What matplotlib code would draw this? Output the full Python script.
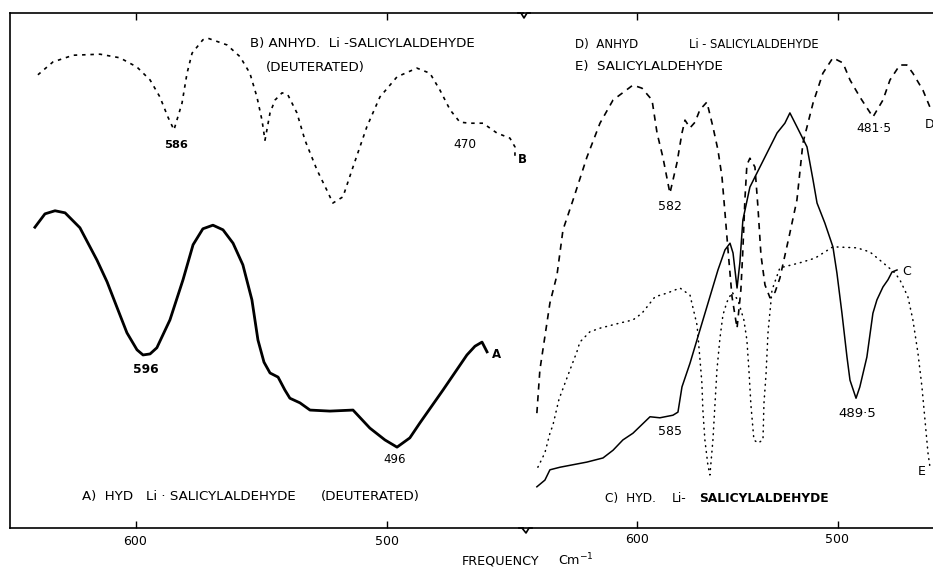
import matplotlib
matplotlib.use("Agg")
import matplotlib.pyplot as plt
from matplotlib.lines import Line2D

plt.rcParams['font.family'] = ['DejaVu Sans']
plt.rcParams['lines.scale_dashes'] = False

# ---------------- data (frequency cm^-1, relative transmission %) ----------------
# Left panel
freq_A = [640.2, 636.2, 632.2, 628.2, 622.3, 615.5, 611.5, 607.6, 603.6, 599.6, 597.2, 594.4,
          591.7, 586.5, 581.3, 577.3, 573.4, 569.4, 565.4, 561.4, 557.5, 553.9, 551.5, 549.1,
          546.7, 543.5, 540.8, 538.8, 534.8, 530.8, 522.9, 513.7, 507.0, 501.0, 496.2, 491.1,
          487.1, 477.9, 468.4, 465.2, 462.4, 460.4]
trans_A = [58.4, 61.0, 61.6, 61.2, 58.3, 52.0, 47.8, 42.9, 37.9, 34.6, 33.6, 33.8,
           35.0, 40.4, 48.2, 55.0, 58.1, 58.8, 57.9, 55.3, 51.1, 44.3, 36.5, 32.2,
           30.1, 29.3, 26.8, 25.2, 24.3, 22.9, 22.7, 22.9, 19.4, 17.1, 15.7, 17.5,
           20.4, 26.8, 33.6, 35.3, 36.1, 34.2]

freq_B = [639.0, 633.0, 625.0, 614.3, 606.4, 599.6, 594.4, 590.5, 587.3, 584.9, 581.7, 579.7,
          577.7, 573.4, 571.4, 563.8, 558.6, 554.7, 551.9, 549.9, 548.7, 546.7, 544.7, 541.9,
          539.6, 536.0, 532.8, 528.0, 524.1, 521.7, 517.7, 513.7, 508.2, 503.0, 496.2, 488.3,
          483.1, 479.1, 475.1, 471.2, 467.2, 462.0, 456.5, 451.3, 449.3, 449.3]
trans_B = [88.0, 90.5, 91.8, 92.0, 91.3, 89.5, 87.0, 83.7, 79.8, 77.3, 82.5, 88.3,
           92.2, 94.8, 95.1, 93.8, 91.5, 88.3, 83.7, 79.2, 75.3, 80.6, 83.1, 84.5,
           84.1, 80.6, 75.3, 69.5, 65.6, 63.1, 64.3, 70.1, 77.9, 83.7, 87.6, 89.3,
           88.3, 85.0, 81.2, 78.8, 78.6, 78.6, 76.7, 75.7, 74.0, 72.0]

# Right panel
freq_C = [649.8, 645.8, 643.3, 638.3, 624.9, 616.9, 611.9, 607.0, 602.0, 593.5, 588.6, 582.1,
          579.6, 577.6, 573.6, 568.7, 563.7, 559.7, 556.2, 553.7, 552.2, 550.2, 548.8, 547.3,
          543.8, 538.8, 530.3, 526.4, 523.9, 520.4, 515.4, 512.4, 510.4, 506.5, 502.5, 500.5,
          498.0, 495.5, 494.0, 491.0, 489.1, 485.6, 482.6, 480.6, 477.6, 475.1, 473.1, 470.6]
trans_C = [8.0, 9.3, 11.3, 11.8, 12.8, 13.6, 15.1, 17.1, 18.4, 21.6, 21.4, 21.9,
           22.5, 27.4, 32.0, 38.4, 44.9, 50.1, 54.0, 55.3, 53.4, 46.6, 51.5, 59.8,
           66.2, 70.1, 76.7, 78.6, 80.6, 77.9, 74.0, 67.6, 63.1, 59.2, 54.6, 49.5,
           41.7, 33.2, 28.7, 25.2, 27.4, 33.2, 41.7, 44.3, 46.8, 48.2, 49.7, 50.1]

freq_D = [649.8, 648.3, 643.3, 639.8, 636.8, 631.8, 624.9, 618.4, 611.9, 602.0, 597.5, 592.5,
          590.0, 587.1, 583.6, 580.1, 577.6, 576.1, 573.6, 571.1, 568.7, 565.2, 562.2, 559.7,
          557.7, 556.2, 554.7, 552.7, 550.2, 548.3, 547.3, 546.3, 545.3, 543.8, 541.3, 539.8,
          538.3, 536.3, 533.8, 531.3, 528.9, 523.9, 520.4, 517.4, 512.4, 507.5, 502.5, 497.5,
          494.0, 489.1, 482.6, 477.6, 474.1, 469.2, 465.7, 462.7, 457.7, 454.2]
trans_D = [22.3, 30.7, 43.7, 49.1, 57.9, 63.7, 72.0, 78.6, 83.1, 86.0, 85.4, 83.1,
           76.7, 72.0, 65.0, 70.9, 76.7, 79.2, 77.7, 78.8, 81.2, 82.7, 77.9, 73.4,
           68.2, 61.2, 54.0, 44.9, 38.8, 46.2, 54.0, 63.7, 70.5, 71.8, 70.1, 62.3,
           53.0, 47.2, 44.7, 45.8, 48.5, 57.3, 63.7, 74.8, 82.5, 88.3, 91.3, 90.3,
           87.0, 83.7, 79.8, 83.1, 87.0, 89.9, 89.9, 88.3, 85.0, 81.7]

freq_E = [649.3, 645.8, 643.3, 641.8, 638.8, 634.3, 629.9, 628.4, 623.4, 618.4, 608.5, 602.0,
          597.5, 591.0, 585.1, 578.6, 573.6, 570.1, 568.7, 567.7, 567.2, 566.2, 564.7, 563.7,
          562.2, 561.2, 560.2, 558.7, 557.2, 555.2, 552.7, 549.8, 546.8, 545.3, 544.3, 543.3,
          541.8, 539.8, 537.3, 536.8, 535.8, 534.8, 532.8, 528.9, 518.9, 511.4, 502.5, 490.5,
          484.1, 479.1, 475.1, 471.6, 469.2, 465.2, 462.7, 460.2, 458.2, 456.7, 455.2, 454.2]
trans_E = [11.8, 14.6, 18.4, 20.0, 25.0, 29.7, 34.2, 36.1, 38.1, 38.8, 39.8, 40.4,
           41.7, 44.9, 45.6, 46.6, 45.2, 39.4, 33.0, 28.2, 22.9, 17.1, 12.2, 10.3,
           17.1, 23.9, 30.7, 36.9, 41.4, 43.9, 45.8, 44.3, 40.4, 36.5, 30.7, 23.9,
           17.1, 16.5, 17.1, 24.3, 29.7, 37.9, 46.2, 50.5, 51.5, 52.4, 54.6, 54.4,
           53.6, 52.0, 50.7, 49.5, 48.2, 44.9, 40.4, 34.0, 27.4, 21.0, 14.6, 11.8]

ticks_left = [600, 500]
ticks_right = [600, 500]
tick_labels = ['600', '500']

# ---------------- figure ----------------
W, H = 933, 567
fig = plt.figure(figsize=(W / 100, H / 100), dpi=100)
fig.patch.set_facecolor('white')

y0 = (H - 528) / H
hgt = (528 - 13) / H
axL = fig.add_axes([10 / W, y0, 513 / W, hgt])
axR = fig.add_axes([523 / W, y0, 410 / W, hgt])

axL.set_xlim(650.1, 446.1)
axR.set_xlim(656.7, 452.7)
for ax in (axL, axR):
    ax.set_ylim(0, 100)
    ax.set_yticks([])
    ax.patch.set_alpha(0)
    for s in ax.spines.values():
        s.set_linewidth(1.2)
        s.set_color('black')
    ax.spines['right'].set_visible(False)
    ax.tick_params(axis='x', direction='in', length=5, width=1.0, top=True,
                   labelbottom=False)
axR.spines['left'].set_visible(False)

axL.set_xticks(ticks_left)
axR.set_xticks(ticks_right)

# curves
axL.plot(freq_A, trans_A, color='black', lw=2.0, solid_joinstyle='round')
lB, = axL.plot(freq_B, trans_B, color='black', lw=1.2)
lB.set_dashes((2.5, 3.5))

axR.plot(freq_C, trans_C, color='black', lw=1.1)
lD, = axR.plot(freq_D, trans_D, color='black', lw=1.2)
lD.set_dashes((4.5, 4.0))
lE, = axR.plot(freq_E, trans_E, color='black', lw=1.1, dash_capstyle='round')
lE.set_dashes((0.6, 3.6))


# ---------------- text (placed at pixel positions of the reference) ----------------
def T(x, y, s, size=9.0, ha='left', weight='normal'):
    fig.text(x / W, 1 - y / H, s, ha=ha, va='baseline', fontsize=size,
             fontweight=weight, color='black')


# tick labels
T(135, 545, tick_labels[0], 9.0, 'center')
T(387, 545, tick_labels[1], 9.0, 'center')
T(637, 543, tick_labels[0], 9.0, 'center')
T(837, 543, tick_labels[1], 9.0, 'center')

T(462, 565, 'FREQUENCY', 9.2)
T(558, 565, 'Cm$^{-1}$', 9.2)

# left panel captions
T(250, 47, 'B) ANHYD.  Li -SALICYLALDEHYDE', 9.6)
T(266, 71, '(DEUTERATED)', 9.6)
T(82, 500, 'A)  HYD', 9.6)
T(146, 500, 'Li · SALICYLALDEHYDE', 9.6)
T(321, 500, '(DEUTERATED)', 9.6)

# right panel captions
T(575, 48, 'D)  ANHYD', 8.6)
T(689, 48, 'Li - SALICYLALDEHYDE', 8.3)
T(575, 70, 'E)  SALICYLALDEHYDE', 9.6)
T(605, 502, 'C)  HYD.', 8.8)
T(672, 502, 'Li-', 8.8)
T(699, 502, 'SALICYLALDEHYDE', 8.8, weight='bold')

# peak labels
T(176, 148, '586', 8.2, 'center', 'bold')
T(465, 148, '470', 8.7, 'center')
T(518, 163, 'B', 8.5, weight='bold')
T(146, 373, '596', 8.9, 'center', 'bold')
T(395, 463, '496', 8.5, 'center')
T(492, 358, 'A', 8.5, weight='bold')
T(670, 210, '582', 9.0, 'center')
T(874, 132, '481·5', 8.8, 'center')
T(925, 128, 'D', 8.8)
T(670, 435, '585', 9.0, 'center')
T(857, 417, '489·5', 9.5, 'center')
T(902, 275, 'C', 9.0)
T(918, 475, 'E', 9.0)

# axis-break notches on top and bottom frame lines
def px(x, y):
    return (x / W, (H - y) / H)

for pts in ([(518, 13), (521, 13), (524, 18), (527, 13), (530, 13)],
            [(519, 528), (522, 528), (526, 533), (529, 528), (532, 528)]):
    xs = [px(*p)[0] for p in pts]
    ys = [px(*p)[1] for p in pts]
    fig.add_artist(Line2D(xs, ys, transform=fig.transFigure, color='black', lw=1.2))

fig.savefig('out.png', dpi=100, facecolor='white')
